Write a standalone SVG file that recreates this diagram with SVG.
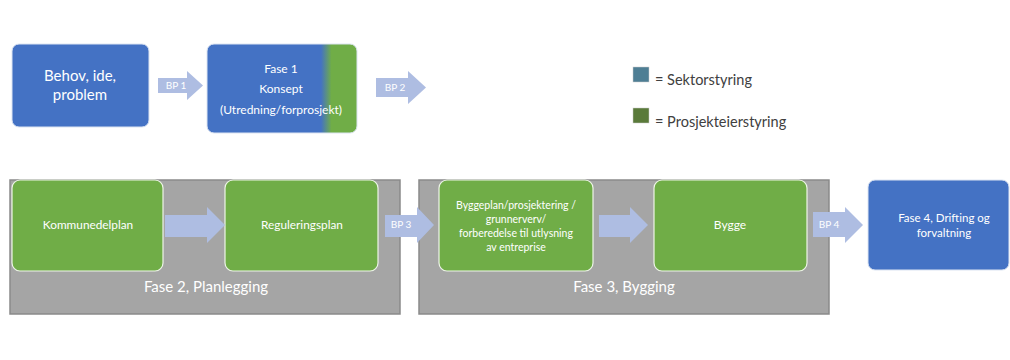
<svg xmlns="http://www.w3.org/2000/svg" width="1010" height="360" viewBox="0 0 1010 360">
<defs>
<linearGradient id="g1" x1="207" y1="0" x2="357" y2="0" gradientUnits="userSpaceOnUse">
<stop offset="0.76" stop-color="#4472c4"/>
<stop offset="0.83" stop-color="#70ad47"/>
</linearGradient>
<style>
text{font-family:Lato,"Open Sans","Liberation Sans",sans-serif;fill:#fff;text-anchor:middle}
.blue{fill:#4472c4;stroke:#dce4f2;stroke-width:1}
.green{fill:#70ad47;stroke:#eef5e8;stroke-width:1.2}
.phase{fill:#a5a5a5;stroke:#8a8a8a;stroke-width:1.5}
.arr{fill:#aebde2}
.bp{font-size:10px}
.lg{fill:#404040;text-anchor:start;font-size:14.5px}
</style>
</defs>
<rect width="1010" height="360" fill="#fff"/>
<g id="phase2"><rect class="phase" x="10" y="180" width="390" height="134"/><text x="206" y="292" font-size="15">Fase 2, Planlegging</text></g>
<g id="phase3"><rect class="phase" x="419" y="180" width="410" height="134"/><text x="624" y="292" font-size="15">Fase 3, Bygging</text></g>
<g id="behov"><rect class="blue" x="12" y="44" width="137" height="83" rx="7"/><text x="80" y="81" font-size="15">Behov, ide,</text><text x="80" y="100" font-size="15">problem</text></g>
<g id="fase1"><rect x="207" y="44" width="150" height="89" rx="7" fill="url(#g1)" stroke="#dce4f2"/><text x="281" y="73" font-size="12">Fase 1</text><text x="281" y="93" font-size="12">Konsept</text><text x="281" y="114" font-size="12">(Utredning/forprosjekt)</text></g>
<g id="legend"><rect x="633" y="67" width="16" height="15" fill="#4e7e94" stroke="#ccc" stroke-width="0.5"/><text class="lg" x="655" y="85">= Sektorstyring</text><rect x="633" y="108" width="16" height="15" fill="#5a7a3a" stroke="#ccc" stroke-width="0.5"/><text class="lg" x="655" y="127">= Prosjekteierstyring</text></g>
<g id="kommunedelplan"><rect class="green" x="12" y="180" width="151" height="91" rx="8"/><text x="88" y="229" font-size="11.8">Kommunedelplan</text></g>
<g id="reguleringsplan"><rect class="green" x="225" y="180" width="153" height="91" rx="8"/><text x="302" y="229" font-size="11.8">Reguleringsplan</text></g>
<g id="byggeplan"><rect class="green" x="439" y="180" width="154" height="91" rx="8"/><text x="516" y="209" font-size="10.5">Byggeplan/prosjektering /</text><text x="516" y="223" font-size="10.5">grunnerverv/</text><text x="516" y="237" font-size="10.5">forberedelse til utlysning</text><text x="516" y="251" font-size="10.5">av entreprise</text></g>
<g id="bygge"><rect class="green" x="654" y="180" width="153" height="91" rx="8"/><text x="730" y="229" font-size="12">Bygge</text></g>
<g id="fase4"><rect class="blue" x="868" y="180" width="141" height="90" rx="7"/><text x="944" y="222" font-size="11.5">Fase 4, Drifting og</text><text x="944" y="237" font-size="11.5">forvaltning</text></g>
<g id="connectors">
<path class="arr" d="M158 78H187V71L203 85.5L187 100V93H158Z"/><text class="bp" x="176" y="89">BP 1</text>
<path class="arr" d="M376 78H408V71L426 87.5L408 104V97H376Z"/><text class="bp" x="395" y="91">BP 2</text>
<path class="arr" d="M165 215H207V207L225 225L207 243V237H165Z"/>
<path class="arr" d="M385 215H417V207L434 225L417 243V237H385Z"/><text class="bp" x="401" y="228">BP 3</text>
<path class="arr" d="M599 215H630V207L648 225L630 243V237H599Z"/>
<path class="arr" d="M813 212H845V207L863 225L845 243V237H813Z"/><text class="bp" x="829" y="228">BP 4</text>
</g>
</svg>
